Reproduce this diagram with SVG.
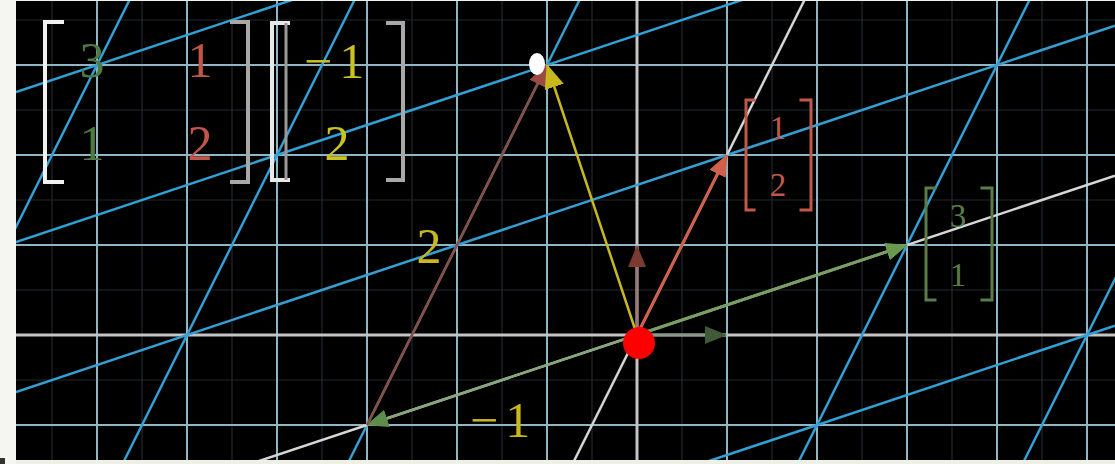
<svg xmlns="http://www.w3.org/2000/svg" width="1115" height="464" viewBox="0 0 1115 464">
<style>
.minor{stroke:#22292c;stroke-width:1.2}
.major{stroke:#8fb6c4;stroke-width:2}
.axis{stroke:#c4c4c4;stroke-width:3}
.tgrid{stroke:#32a0d4;stroke-width:2.5}
.taxis{stroke:#d6d6d6;stroke-width:2.5}
.num{font-family:"Liberation Serif","Times New Roman",serif;text-anchor:middle}
.big{font-size:50px}
.small{font-size:33px}
.br{fill:none;stroke-linecap:square}
</style>
<defs>
<clipPath id="clip"><rect x="16" y="1" width="1099" height="459"/></clipPath>
<marker id="hg" markerUnits="userSpaceOnUse" markerWidth="22" markerHeight="18" refX="21" refY="9" orient="auto"><path d="M0,0 L22,9 L0,18 z" fill="#6a9a50"/></marker>
<marker id="hg2" markerUnits="userSpaceOnUse" markerWidth="22" markerHeight="18" refX="21" refY="9" orient="auto"><path d="M0,0 L22,9 L0,18 z" fill="#5e8c4a"/></marker>
<marker id="hr" markerUnits="userSpaceOnUse" markerWidth="22" markerHeight="18" refX="21" refY="9" orient="auto"><path d="M0,0 L22,9 L0,18 z" fill="#d0604a"/></marker>
<marker id="hb" markerUnits="userSpaceOnUse" markerWidth="22" markerHeight="18" refX="21" refY="9" orient="auto"><path d="M0,0 L22,9 L0,18 z" fill="#9a4a40"/></marker>
<marker id="hy" markerUnits="userSpaceOnUse" markerWidth="24" markerHeight="20" refX="23" refY="10" orient="auto"><path d="M0,0 L24,10 L0,20 z" fill="#c8b81e"/></marker>
<marker id="hdr" markerUnits="userSpaceOnUse" markerWidth="22" markerHeight="18" refX="21" refY="9" orient="auto"><path d="M0,0 L22,9 L0,18 z" fill="#7a3a32"/></marker>
<marker id="hdg" markerUnits="userSpaceOnUse" markerWidth="22" markerHeight="18" refX="21" refY="9" orient="auto"><path d="M0,0 L22,9 L0,18 z" fill="#3f5a36"/></marker>
</defs>
<rect x="0" y="0" width="1115" height="464" fill="#eef0e6"/>
<rect x="0" y="0" width="16" height="464" fill="#f5f5f2"/>
<rect x="0" y="458" width="5" height="6" fill="#333"/>
<rect x="16" y="1" width="1099" height="459" fill="#000"/>
<g id="grid" clip-path="url(#clip)">
<g class="minor">
<path d="M52,0V464M142,0V464M232,0V464M322,0V464M412,0V464M502,0V464M592,0V464M682,0V464M772,0V464M862,0V464M952,0V464M1042,0V464"/>
<path d="M0,20H1115M0,110H1115M0,200H1115M0,290H1115M0,380H1115"/>
</g>
<g class="major">
<path d="M97,0V464M187,0V464M277,0V464M367,0V464M457,0V464M547,0V464M727,0V464M817,0V464M907,0V464M997,0V464M1087,0V464"/>
<path d="M0,65H1115M0,155H1115M0,245H1115M0,425H1115"/>
</g>
<g class="axis">
<path d="M637,0V464M0,335H1115"/>
</g>
<g class="tgrid">
<line x1="16" y1="692" x2="1115" y2="325.67"/>
<line x1="16" y1="392" x2="1115" y2="25.67"/>
<line x1="16" y1="242" x2="1115" y2="-124.33"/>
<line x1="16" y1="92" x2="1115" y2="-274.33"/>
<line x1="1029.5" y1="0" x2="797.5" y2="464"/>
<line x1="1254.5" y1="0" x2="1022.5" y2="464"/>
<line x1="579.5" y1="0" x2="347.5" y2="464"/>
<line x1="354.5" y1="0" x2="122.5" y2="464"/>
<line x1="129.5" y1="0" x2="-102.5" y2="464"/>
</g>
<g class="taxis">
<line x1="16" y1="542" x2="1115" y2="175.67"/>
<line x1="804.5" y1="0" x2="572.5" y2="464"/>
</g>
</g>
<g id="connectors" fill="none">
<line x1="637" y1="335" x2="637" y2="246" stroke="#a07878" stroke-width="2.5" marker-end="url(#hdr)"/>
<line x1="637" y1="335" x2="726" y2="335" stroke="#8a9a8a" stroke-width="2.5" marker-end="url(#hdg)"/>
<line x1="637" y1="335" x2="367" y2="425" stroke="#86a678" stroke-width="2.5" marker-end="url(#hg2)"/>
<line x1="637" y1="335" x2="907" y2="245" stroke="#7a9e62" stroke-width="3" marker-end="url(#hg)"/>
<line x1="637" y1="335" x2="727" y2="155" stroke="#d0604a" stroke-width="3" marker-end="url(#hr)"/>
<line x1="367" y1="425" x2="547" y2="65" stroke="#8c4c44" stroke-width="2.5" marker-end="url(#hb)"/>
<line x1="637" y1="335" x2="547" y2="65" stroke="#c8b81e" stroke-width="2.5" marker-end="url(#hy)"/>
</g>
<g id="matrix">
<path class="br" d="M62,22H45V182H62" stroke="#f0f0f0" stroke-width="4"/>
<path class="br" d="M232,22H248V182H232" stroke="#a8a8a8" stroke-width="4"/>
<text class="num big" x="92" y="77" fill="#4e7a44">3</text>
<text class="num big" x="92" y="160" fill="#4e7a44">1</text>
<text class="num big" x="200" y="77" fill="#c0564a">1</text>
<text class="num big" x="200" y="160" fill="#c0564a">2</text>
</g>
<g id="input-vector">
<path class="br" d="M288,23H272V180H288" stroke="#e8e8e8" stroke-width="4"/>
<line x1="286" y1="23" x2="286" y2="180" stroke="#9a9a9a" stroke-width="3"/>
<path class="br" d="M388,23H403V180H388" stroke="#a8a8a8" stroke-width="4"/>
<text class="big" x="304" y="78" fill="#c9c21f" font-family="Liberation Serif, serif">−<tspan dx="7">1</tspan></text>
<text class="num big" x="337" y="160" fill="#c9c21f">2</text>
</g>
<g id="j-label">
<path class="br" d="M754,100H746V210H754" stroke="#c0584a" stroke-width="3"/>
<path class="br" d="M801,100H811V210H801" stroke="#c0584a" stroke-width="3"/>
<text class="num small" x="778" y="139" fill="#c0584a">1</text>
<text class="num small" x="778" y="196" fill="#c0584a">2</text>
</g>
<g id="i-label">
<path class="br" d="M935,188H926V300H935" stroke="#5a7d48" stroke-width="3"/>
<path class="br" d="M982,188H992V300H982" stroke="#5a7d48" stroke-width="3"/>
<text class="num small" x="958" y="227" fill="#5a7d48">3</text>
<text class="num small" x="958" y="286" fill="#5a7d48">1</text>
</g>
<g id="scale-labels">
<text class="num big" x="429" y="263" fill="#c8b81e">2</text>
<text class="big" x="470" y="437" fill="#c8b81e" font-family="Liberation Serif, serif">−<tspan dx="7">1</tspan></text>
</g>
<g id="dots">
<ellipse cx="537" cy="64" rx="8" ry="11" fill="#ffffff"/>
<circle cx="639" cy="343" r="16" fill="#ff0000"/>
</g>
</svg>
